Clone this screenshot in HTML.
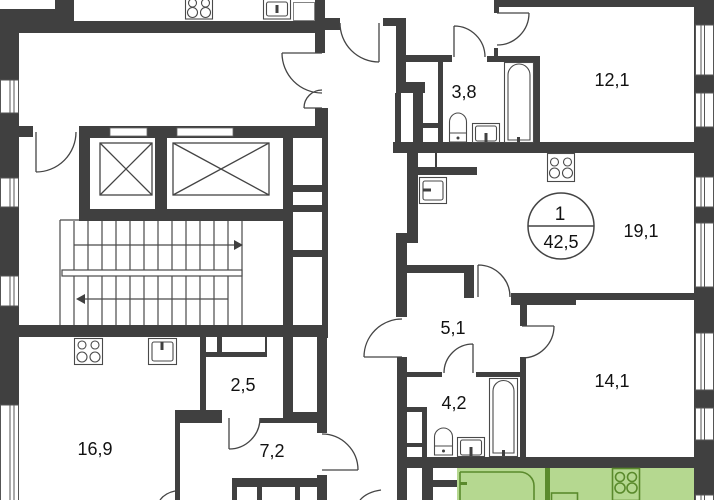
<!DOCTYPE html>
<html><head><meta charset="utf-8"><style>
html,body{margin:0;padding:0;background:#fff;}
svg{display:block;}
text{font-family:"Liberation Sans",Arial,sans-serif;font-size:18px;fill:#111;text-anchor:middle;}
</style></head><body>
<svg width="714" height="500" viewBox="0 0 714 500" xmlns="http://www.w3.org/2000/svg">
<rect width="714" height="500" fill="#fff"/>
<!-- green area -->
<rect x="457" y="468" width="238" height="32" fill="#b5d890"/>
<g fill="#404040">
<!-- top-left -->
<rect x="0" y="9" width="74" height="24"/>
<rect x="55" y="0" width="19" height="33"/>
<rect x="0" y="21" width="325" height="12"/>
<rect x="315" y="0" width="10" height="53"/>
<rect x="325" y="18" width="15" height="12"/>
<!-- left wall -->
<rect x="0" y="9" width="19" height="491"/>
<rect x="19" y="126" width="14" height="11"/>
<!-- elevator block -->
<rect x="79" y="126" width="249" height="12"/>
<rect x="315" y="108" width="13" height="30"/>
<rect x="79" y="126" width="11" height="95"/>
<rect x="155" y="138" width="12" height="71"/>
<rect x="79" y="209" width="214" height="12"/>
<rect x="283" y="126" width="10" height="294"/>
<rect x="322" y="108" width="6" height="230"/>
<rect x="293" y="185" width="29" height="7"/>
<rect x="293" y="205" width="29" height="7"/>
<rect x="293" y="250" width="29" height="7"/>
<rect x="19" y="325" width="309" height="12"/>
<!-- bottom middle -->
<rect x="283" y="412" width="44" height="8"/>
<rect x="260" y="418" width="67" height="5"/>
<rect x="206" y="352" width="61" height="5"/>
<rect x="217" y="337" width="5" height="20"/>
<rect x="265" y="337" width="2" height="20"/>
<rect x="200" y="337" width="6" height="75"/>
<rect x="175" y="410" width="47" height="13"/>
<rect x="175" y="410" width="5" height="90"/>
<rect x="317" y="337" width="10" height="96"/>
<rect x="317" y="475" width="10" height="25"/>
<rect x="232" y="478" width="85" height="9"/>
<rect x="232" y="478" width="5" height="22"/>
<rect x="257" y="478" width="5" height="22"/>
<rect x="295" y="478" width="5" height="22"/>
<!-- right section -->
<rect x="383" y="18" width="23" height="8"/>
<rect x="396" y="18" width="10" height="75"/>
<rect x="396" y="82" width="29" height="11"/>
<rect x="395" y="93" width="6" height="50"/>
<rect x="413" y="93" width="10" height="50"/>
<rect x="423" y="123" width="15" height="5"/>
<rect x="406" y="55" width="46" height="7"/>
<rect x="438" y="60" width="5" height="83"/>
<rect x="487" y="56" width="53" height="6"/>
<rect x="534" y="56" width="6" height="90"/>
<rect x="494" y="0" width="5" height="13"/>
<rect x="494" y="48" width="4" height="9"/>
<rect x="494" y="0" width="220" height="7"/>
<rect x="393" y="142" width="321" height="11"/>
<rect x="407" y="152" width="11" height="91"/>
<rect x="418" y="167" width="59" height="8"/>
<rect x="435" y="152" width="2" height="15"/>
<rect x="396" y="233" width="11" height="84"/>
<rect x="407" y="265" width="62" height="8"/>
<rect x="464" y="265" width="10" height="33"/>
<rect x="511" y="293" width="183" height="7"/>
<rect x="511" y="293" width="65" height="12"/>
<rect x="520" y="300" width="7" height="26"/>
<rect x="397" y="357" width="10" height="143"/>
<rect x="407" y="372" width="35" height="5"/>
<rect x="476" y="372" width="50" height="5"/>
<rect x="520" y="357" width="6" height="100"/>
<rect x="397" y="457" width="317" height="11"/>
<rect x="407" y="407" width="20" height="5"/>
<rect x="422" y="407" width="5" height="50"/>
<rect x="407" y="443" width="20" height="4"/>
<rect x="422" y="468" width="11" height="32"/>
<rect x="433" y="480" width="24" height="7"/>
<rect x="694" y="0" width="20" height="500"/>
</g>
<!-- windows -->
<g fill="#fff" stroke="#555" stroke-width="1">
<rect x="0.5" y="80" width="18" height="33"/>
<rect x="0.5" y="178" width="18" height="29"/>
<rect x="0.5" y="276" width="18" height="30"/>
<rect x="0.5" y="405" width="18" height="96"/>
<rect x="695.5" y="25" width="18" height="50"/>
<rect x="695.5" y="93" width="18" height="34"/>
<rect x="695.5" y="177" width="18" height="30"/>
<rect x="695.5" y="223" width="18" height="64"/>
<rect x="695.5" y="333" width="18" height="57"/>
<rect x="695.5" y="408" width="18" height="32"/>
<rect x="695.5" y="495" width="18" height="6"/>
</g>
<g stroke="#555" stroke-width="1">
<path d="M10,80V113M14,80V113M10,178V207M14,178V207M10,276V306M14,276V306M10,405V500M14,405V500"/>
<path d="M701,25V75M704.5,25V75M701,93V127M704.5,93V127M701,177V207M704.5,177V207M701,223V287M704.5,223V287M701,333V390M704.5,333V390M701,408V440M704.5,408V440M701,495V500M704.5,495V500"/>
</g>
<!-- vents / shafts -->
<rect x="110" y="128" width="37" height="8" fill="#fff" stroke="#666" stroke-width="0.8"/>
<rect x="177" y="128" width="56" height="8" fill="#fff" stroke="#666" stroke-width="0.8"/>
<rect x="293.5" y="2.5" width="21" height="18" fill="#fff" stroke="#666" stroke-width="0.8"/>
<!-- elevators -->
<g fill="none" stroke="#444" stroke-width="1.3">
<rect x="100" y="143" width="52" height="52"/>
<path d="M100,143L152,195M152,143L100,195"/>
<rect x="173" y="143" width="96" height="52"/>
<path d="M173,143L269,195M269,143L173,195"/>
</g>
<!-- stairs -->
<g fill="none" stroke="#4a4a4a" stroke-width="1.2">
<path d="M60,220H79M60,220V325M242,221V325"/>
<path d="M74,221V270M88,221V270M102,221V270M116,221V270M130,221V270M144,221V270M158,221V270M172,221V270M186,221V270M200,221V270M214,221V270M228,221V270"/>
<path d="M74,276V325M88,276V325M102,276V325M116,276V325M130,276V325M144,276V325M158,276V325M172,276V325M186,276V325M200,276V325M214,276V325M228,276V325"/>
<rect x="62" y="270" width="180" height="6" fill="#fff"/>
<path d="M74,245H236M84,299H228"/>
</g>
<polygon points="234,240 243,245 234,250" fill="#404040"/>
<polygon points="85,294 76,299 85,304" fill="#404040"/>
<!-- doors -->
<g fill="none" stroke="#444" stroke-width="1.3">
<path d="M36,132V172M36,172A40,40 0 0 0 76,132"/>
<path d="M322,53H282M282,53A40,40 0 0 0 322,93"/>
<path d="M322,108H304M304,108A18,18 0 0 1 322,90"/>
<path d="M379,23V62M379,62A39,39 0 0 1 340,23"/>
<path d="M454,57V26M454,26A31,31 0 0 1 485,57"/>
<path d="M497,13H529M529,13A32,32 0 0 1 497,45"/>
<path d="M478,297V265M478,265A32,32 0 0 1 510,297"/>
<path d="M522,326H554M554,326A32,32 0 0 1 522,358"/>
<path d="M402,357H364M364,357A38,38 0 0 1 402,319"/>
<path d="M473,373V344M473,344A29,29 0 0 0 444,373"/>
<path d="M229,418V449M229,449A31,31 0 0 0 260,418"/>
<path d="M322,470H358M358,470A36,36 0 0 0 322,434"/>
<path d="M160,500Q165,493 175,491"/>
<path d="M360,500Q367,492 381,490"/>
</g>
<!-- stoves -->
<g fill="#fff" stroke="#4a4a4a" stroke-width="1.1">
<rect x="185.5" y="-1" width="27" height="20"/>
<circle cx="192.5" cy="3" r="4"/><circle cx="205.5" cy="3" r="4"/>
<circle cx="192.5" cy="12.5" r="5"/><circle cx="205.5" cy="12.5" r="5"/>
<rect x="74.5" y="338.5" width="28" height="26"/>
<circle cx="82" cy="345" r="4"/><circle cx="95" cy="345" r="4"/>
<circle cx="82" cy="357" r="5"/><circle cx="95" cy="357" r="5"/>
<rect x="547.5" y="153.5" width="27" height="28"/>
<circle cx="554.5" cy="162" r="4"/><circle cx="567.5" cy="162" r="4"/>
<circle cx="554.5" cy="173" r="5"/><circle cx="567.5" cy="173" r="5"/>
</g>
<!-- sinks -->
<g fill="#fff" stroke="#4a4a4a" stroke-width="1.1">
<rect x="263.5" y="-1" width="27" height="20"/>
<rect x="266.5" y="2" width="21" height="14" rx="2"/>
<rect x="148.5" y="338.5" width="28" height="26"/>
<rect x="152" y="342" width="21" height="19" rx="2"/>
<rect x="419.5" y="177.5" width="27" height="26"/>
<rect x="423" y="181" width="20" height="19" rx="2"/>
<rect x="472.5" y="123.5" width="27" height="19"/>
<rect x="475.5" y="126" width="21" height="15" rx="2"/>
<rect x="457.5" y="437.5" width="27" height="19"/>
<rect x="460.5" y="440" width="21" height="15" rx="2"/>
</g>
<g fill="#404040">
<rect x="275.5" y="5" width="3" height="8"/>
<rect x="160.5" y="342" width="3" height="8"/>
<rect x="423" y="188.5" width="8" height="3"/>
<rect x="484.5" y="133" width="3" height="9"/>
<rect x="469.5" y="447" width="3" height="9"/>
</g>
<!-- toilets -->
<g fill="#fff" stroke="#4a4a4a" stroke-width="1.1">
<path d="M449.5,142V122A8.5,9 0 0 1 466.5,122V142Z"/>
<path d="M449.5,133H466.5"/>
<path d="M434.5,455V437A9,9 0 0 1 452.5,437V455Z"/>
<path d="M434.5,446H452.5"/>
</g>
<circle cx="458" cy="138" r="1.5" fill="#404040"/>
<circle cx="443.5" cy="451" r="1.5" fill="#404040"/>
<!-- bathtubs -->
<g fill="#fff" stroke="#4a4a4a" stroke-width="1.1">
<rect x="504.5" y="62.5" width="29" height="80"/>
<path d="M508,140V75A11,11 0 0 1 530,75V140Z"/>
<rect x="489.5" y="378.5" width="28" height="78"/>
<path d="M493,453V391A10.5,10.5 0 0 1 514,391V453Z"/>
</g>
<rect x="517" y="137" width="3" height="6" fill="#404040"/>
<rect x="502" y="450" width="3" height="6" fill="#404040"/>
<!-- green fixtures -->
<g fill="none" stroke="#5a8a2c" stroke-width="1.6">
<path d="M460,472H520A14,14 0 0 1 534,486V500M460,472V500"/>
<rect x="612.5" y="468.5" width="27" height="32"/>
<circle cx="620" cy="477" r="4.5"/><circle cx="632" cy="477" r="4.5"/>
<circle cx="620" cy="488" r="5"/><circle cx="632" cy="488" r="5"/>
<rect x="551.5" y="493" width="26" height="8"/>
</g>
<rect x="545" y="468" width="5" height="32" fill="#5a8a2c"/>
<rect x="460" y="482" width="7" height="3" fill="#5a8a2c"/>
<!-- apartment badge -->
<circle cx="561" cy="226" r="33" fill="#fff" stroke="#444" stroke-width="1.5"/>
<line x1="528" y1="226" x2="594" y2="226" stroke="#444" stroke-width="1.5"/>
<text x="560" y="220" style="font-size:19px">1</text>
<text x="561" y="248" style="font-size:18px">42,5</text>
<!-- labels -->
<text x="464" y="98">3,8</text>
<text x="612" y="86">12,1</text>
<text x="641" y="237">19,1</text>
<text x="453" y="334">5,1</text>
<text x="612" y="387">14,1</text>
<text x="454" y="409">4,2</text>
<text x="243" y="391">2,5</text>
<text x="95" y="455">16,9</text>
<text x="272" y="457">7,2</text>
</svg>
</body></html>
